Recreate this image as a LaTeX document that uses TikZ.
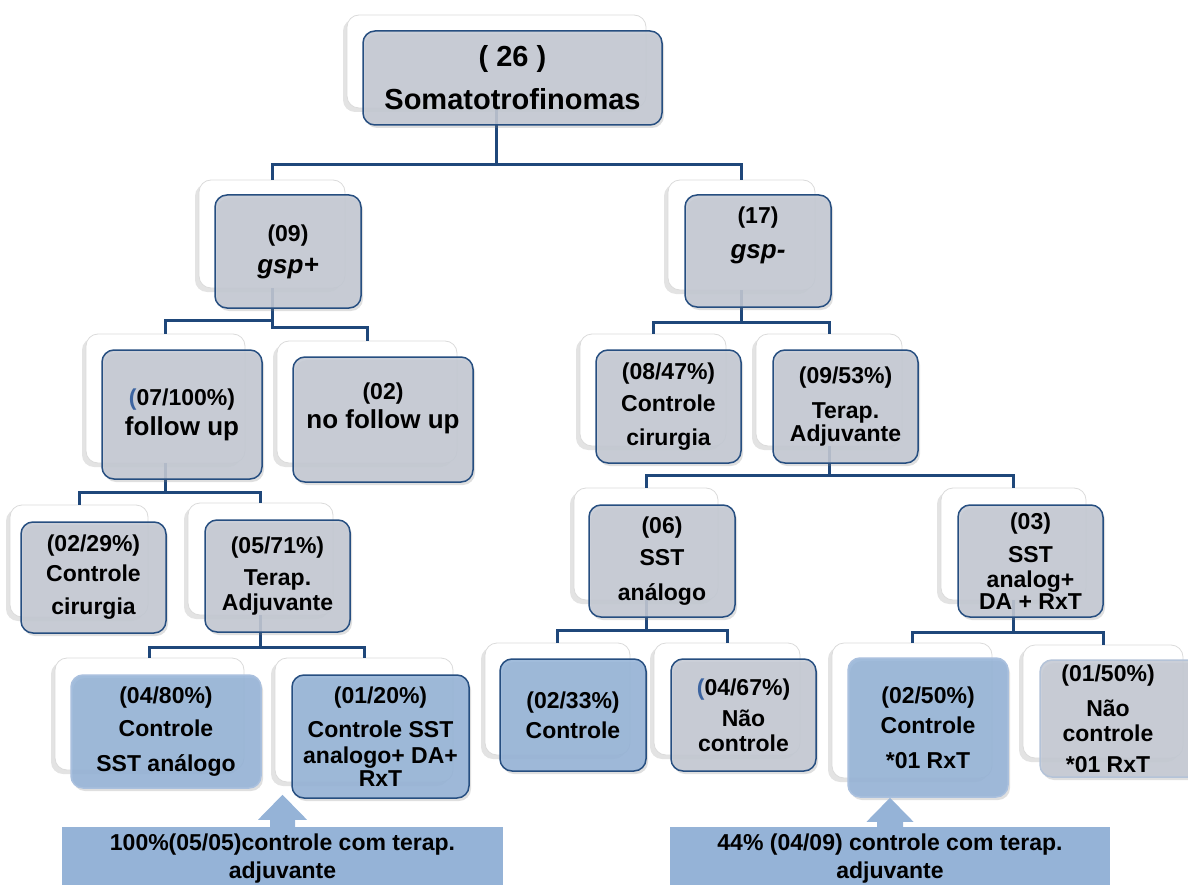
\documentclass[tikz,border=0pt]{standalone}
\usepackage{fontspec}
\setmainfont{Liberation Sans}
\usetikzlibrary{shadows}
\definecolor{boxgray}{RGB}{196,201,211}
\definecolor{bordblue}{RGB}{38,78,128}
\definecolor{linkblue}{RGB}{31,71,122}
\definecolor{softblue}{RGB}{149,179,215}
\definecolor{lightedge}{RGB}{170,192,222}
\definecolor{grayedge}{RGB}{180,195,216}
\definecolor{parenblue}{RGB}{60,100,160}
\newcommand\boxfont{\fontsize{23}{0}\selectfont\bfseries\lineskiplimit=-100pt\lineskip=0pt}
\newcommand\bigboxfont{\fontsize{29}{0}\selectfont\bfseries\lineskiplimit=-100pt\lineskip=0pt}
\newcommand\midsize{\fontsize{26}{0}\selectfont}
\tikzset{
 backcard/.style={draw=black!14, fill=white, rounded corners=12pt, line width=0.8pt,
   drop shadow={shadow xshift=-4pt, shadow yshift=-4pt, opacity=.28, fill=black!40}},
 card/.style={draw=bordblue, line width=1.5pt, fill=boxgray, fill opacity=.88, text opacity=1,
   rounded corners=12pt, align=center, font=\boxfont, inner sep=0pt,
   drop shadow={shadow xshift=2pt, shadow yshift=-3pt, opacity=.25}},
 bluecard/.style={card, fill=softblue},
 softcard/.style={bluecard, draw=lightedge},
 link/.style={draw=linkblue, line width=3pt},
 note/.style={fill=softblue, align=center, font=\boxfont, inner sep=0pt},
}
\begin{document}
\begin{tikzpicture}[x=1pt,y=-1pt]
\useasboundingbox (0,0) rectangle (1188,885);
\clip (0,0) rectangle (1188,885);
% back cards
\node[backcard, minimum width=299pt, minimum height=93pt] (b0) at (496.5,61.5) {};
\node[backcard, minimum width=146pt, minimum height=108pt] (b1) at (272,234) {};
\node[backcard, minimum width=147pt, minimum height=110pt] (b2) at (741.5,235) {};
\node[backcard, minimum width=159pt, minimum height=129pt] (b3) at (165.5,398.5) {};
\node[backcard, minimum width=180pt, minimum height=122pt] (b4) at (367,402) {};
\node[backcard, minimum width=138pt, minimum height=112pt] (b5) at (79,561) {};
\node[backcard, minimum width=145pt, minimum height=112pt] (b6) at (260.5,559) {};
\node[backcard, minimum width=189pt, minimum height=112pt] (b7) at (149.5,714) {};
\node[backcard, minimum width=178pt, minimum height=124pt] (b8) at (364,720) {};
\node[backcard, minimum width=146pt, minimum height=112pt] (b9) at (653,390) {};
\node[backcard, minimum width=146pt, minimum height=112pt] (b10) at (829,390) {};
\node[backcard, minimum width=144pt, minimum height=112pt] (b11) at (646,544) {};
\node[backcard, minimum width=145pt, minimum height=112pt] (b12) at (1013.5,544) {};
\node[backcard, minimum width=145pt, minimum height=112pt] (b13) at (557.5,699) {};
\node[backcard, minimum width=146pt, minimum height=112pt] (b14) at (727,699) {};
\node[backcard, minimum width=160pt, minimum height=135pt] (b15) at (912,710.5) {};
\node[backcard, minimum width=160pt, minimum height=113pt] (b16) at (1103,701.5) {};
% connectors
\coordinate (j0) at (496.5,165);
\coordinate (j1) at (272,320);
\coordinate (j2) at (741.5,322);
\coordinate (j3) at (165.5,492);
\coordinate (j4) at (260.5,647);
\coordinate (j5) at (829,475);
\coordinate (j6) at (646,630);
\coordinate (j7) at (1013.5,632);
\draw[link] (b0.south) -- (j0);
\draw[link] (b1.north) |- (j0) -| (b2.north);
\draw[link] (b1.south) -- (j1);
\draw[link] (b3.north) |- (j1) -- ++(0,7) -| (b4.north);
\draw[link] (b2.south) -- (j2);
\draw[link] (b9.north) |- (j2) -| (b10.north);
\draw[link] (b3.south) -- (j3);
\draw[link] (b5.north) |- (j3) -| (b6.north);
\draw[link] (b6.south) -- (j4);
\draw[link] (b7.north) |- (j4) -| (b8.north);
\draw[link] (b10.south) -- (j5);
\draw[link] (b11.north) |- (j5) -| (b12.north);
\draw[link] (b11.south) -- (j6);
\draw[link] (b13.north) |- (j6) -| (b14.north);
\draw[link] (b12.south) -- (j7);
\draw[link] (b15.north) |- (j7) -| (b16.north);
% front cards
\node[card, minimum width=299pt, minimum height=94pt, font=\bigboxfont] (f0) at (512.5,78)
  {( 26 )\\[43pt]Somatotrofinomas};
\node[card, minimum width=146pt, minimum height=113pt] (f1) at (288,251.5)
  {(09)\\[32pt]{\midsize\itshape gsp+}};
\node[card, minimum width=146pt, minimum height=112pt, text depth=37pt] (f2) at (758,251)
  {(17)\\[35pt]{\midsize\itshape gsp-}};
\node[card, minimum width=160pt, minimum height=129pt] (f3) at (182,414.5)
  {\textcolor{parenblue}{(}07/100\%)\\[30pt]{\midsize follow up}};
\node[card, minimum width=180pt, minimum height=125pt, text depth=28pt] (f4) at (383,419.5)
  {(02)\\[29pt]{\midsize no follow up}};
\node[card, minimum width=145pt, minimum height=111pt] (f5) at (93.5,577.5)
  {(02/29\%)\\[30pt]Controle\\[33pt]cirurgia};
\node[card, minimum width=145pt, minimum height=112pt] (f6) at (277.5,576)
  {(05/71\%)\\[32pt]Terap.\\[25pt]Adjuvante};
\node[softcard, minimum width=190pt, minimum height=113pt] (f7) at (166,731.5)
  {(04/80\%)\\[33pt]Controle\\[35pt]SST análogo};
\node[bluecard, minimum width=177pt, minimum height=123pt] (f8) at (380.5,736.5)
  {(01/20\%)\\[34pt]Controle SST\\[26pt]analogo+ DA+\\[23pt]RxT};
\node[card, minimum width=145pt, minimum height=113pt] (f9) at (668.5,406.5)
  {(08/47\%)\\[32pt]Controle\\[34pt]cirurgia};
\node[card, minimum width=145pt, minimum height=113pt] (f10) at (845.5,406.5)
  {(09/53\%)\\[35pt]Terap.\\[23pt]Adjuvante};
\node[card, minimum width=146pt, minimum height=112pt] (f11) at (662,561)
  {(06)\\[32pt]SST\\[35pt]análogo};
\node[card, minimum width=145pt, minimum height=112pt] (f12) at (1030.5,561)
  {(03)\\[33pt]SST\\[25pt]analog+\\[22pt]DA + RxT};
\node[bluecard, minimum width=146pt, minimum height=112pt] (f13) at (573,715)
  {(02/33\%)\\[30pt]Controle};
\node[card, minimum width=145pt, minimum height=112pt] (f14) at (743.5,715)
  {\textcolor{parenblue}{(}04/67\%)\\[31pt]Não\\[25pt]controle};
\node[softcard, minimum width=160pt, minimum height=139pt] (f15) at (928,727.5)
  {(02/50\%)\\[30pt]Controle\\[35pt]*01 RxT};
\node[card, draw=grayedge, minimum width=160pt, minimum height=117pt] (f16) at (1120,718.5)
  {\hspace*{-24pt}(01/50\%)\\[35pt]\hspace*{-24pt}Não\\[25pt]\hspace*{-24pt}controle\\[31pt]\hspace*{-24pt}*01 RxT};
% bottom notes and arrows
\node[note, minimum width=441pt, minimum height=64pt] (nl) at (282.5,859)
  {100\%(05/05)controle com terap.\\[28pt]adjuvante};
\node[note, minimum width=440pt, minimum height=64pt] (nr) at (890,859)
  {44\% (04/09) controle com terap.\\[28pt]adjuvante};
\fill[softblue, shift={(nl.north)}] (-12.5,2) -- (-12.5,-7) -- (-24.5,-7) -- (0,-32)
  -- (24.5,-7) -- (12.5,-7) -- (12.5,2) -- cycle;
\fill[softblue, shift={(nr.north)}] (-13,2) -- (-13,-5) -- (-23.5,-5) -- (0,-29)
  -- (23.5,-5) -- (13,-5) -- (13,2) -- cycle;
\end{tikzpicture}
\end{document}
